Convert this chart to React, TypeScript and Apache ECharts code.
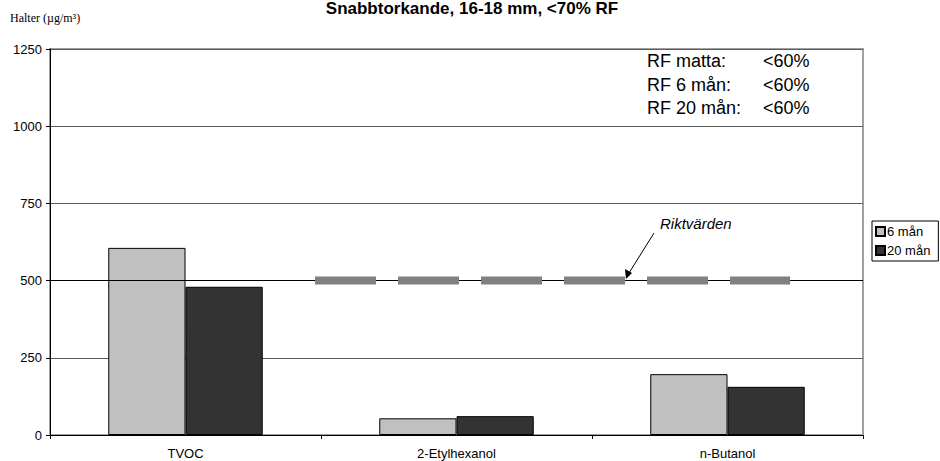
import React, { useEffect, useRef } from "react";
import * as echarts from "echarts";

const categories = ["TVOC", "2-Etylhexanol", "n-Butanol"];
const seriesNames = ["6 mån", "20 mån"];
const values6 = [606, 54, 197];
const values20 = [480, 61, 156];
const yTicks = [0, 250, 500, 750, 1000, 1250];
const riktValue = 500;
const riktXRange = [0.978, 2.731];
const titleText = "Snabbtorkande, 16-18 mm, <70% RF";
const yAxisTitle = "Halter (µg/m³)";
const rfLabels = ["RF matta:", "RF 6 mån:", "RF 20 mån:"];
const rfValues = ["<60%", "<60%", "<60%"];
const riktLabel = "Riktvärden";

const FONT = "'Liberation Sans', Arial, sans-serif";

export default function App() {
  const ref = useRef<HTMLDivElement>(null);
  useEffect(() => {
    if (!ref.current) return;
    const chart = echarts.init(ref.current, undefined, { renderer: "svg" });
    const rfText: any[] = [];
    rfLabels.forEach((l, i) => {
      rfText.push({
        type: "text",
        left: 647,
        top: 52 + i * 23.5,
        style: { text: l, font: `18px ${FONT}`, fill: "#000" },
      });
      rfText.push({
        type: "text",
        left: 763,
        top: 52 + i * 23.5,
        style: { text: rfValues[i], font: `18px ${FONT}`, fill: "#000" },
      });
    });
    chart.setOption({
      animation: false,
      backgroundColor: "#fff",
      title: {
        text: titleText,
        left: 467,
        top: -5,
        textAlign: "center",
        textStyle: { fontFamily: FONT, fontSize: 17, fontWeight: "bold", color: "#000" },
      },
      legend: {
        orient: "vertical",
        left: 872,
        top: 221,
        itemWidth: 9,
        itemHeight: 9,
        itemGap: 6,
        padding: [4, 8, 4, 3],
        borderColor: "#000",
        borderWidth: 1,
        icon: "rect",
        data: seriesNames,
        textStyle: { fontFamily: FONT, fontSize: 13, color: "#000", padding: [0, 0, 0, -3] },
      },
      grid: {
        left: 50,
        right: 77,
        top: 49,
        bottom: 26,
        show: true,
        borderColor: "#a0a0a0",
        borderWidth: 2,
      },
      xAxis: [
        {
          type: "category",
          data: categories,
          axisLine: { lineStyle: { color: "#000", width: 1 } },
          axisTick: { show: true, length: 4, lineStyle: { color: "#000" } },
          axisLabel: { fontFamily: FONT, fontSize: 13, color: "#000", margin: 12 },
          splitLine: { show: false },
        },
        {
          type: "value",
          min: 0,
          max: categories.length,
          show: false,
          splitLine: { show: false },
        },
      ],
      yAxis: {
        type: "value",
        min: yTicks[0],
        max: yTicks[yTicks.length - 1],
        interval: 250,
        axisLine: { show: true, lineStyle: { color: "#000", width: 1 } },
        axisTick: { show: true, length: 4, lineStyle: { color: "#000" } },
        axisLabel: {
          fontFamily: FONT,
          fontSize: 13,
          color: "#000",
          margin: 8,
          formatter: (v: number) => String(v),
        },
        splitLine: { show: true, lineStyle: { color: "#5a5a5a", width: 1 } },
      },
      series: [
        {
          name: seriesNames[0],
          type: "bar",
          data: values6,
          barGap: "0%",
          barCategoryGap: "43%",
          itemStyle: { color: "#c0c0c0", borderColor: "#000", borderWidth: 1 },
          markLine: {
            silent: true,
            symbol: "none",
            label: { show: false },
            lineStyle: { color: "#000", width: 1, type: "solid" },
            data: [{ yAxis: riktValue }],
          },
        },
        {
          name: seriesNames[1],
          type: "bar",
          data: values20,
          itemStyle: { color: "#333333", borderColor: "#000", borderWidth: 1 },
        },
        {
          name: riktLabel,
          type: "line",
          xAxisIndex: 1,
          z: 5,
          symbol: "none",
          data: riktXRange.map((x) => [x, riktValue]),
          lineStyle: { color: "#808080", width: 8, type: [61, 22], cap: "butt" },
        },
      ],
      graphic: [
        {
          type: "text",
          left: 10,
          top: 12,
          style: { text: yAxisTitle, font: "12px 'Liberation Serif', 'Times New Roman', serif", fill: "#000" },
        },
        ...rfText,
        {
          type: "text",
          left: 660,
          top: 216,
          style: { text: riktLabel, font: `italic 15px ${FONT}`, fill: "#000" },
        },
        {
          type: "line",
          shape: { x1: 654, y1: 233, x2: 629, y2: 273 },
          style: { stroke: "#000", lineWidth: 1 },
          z: 10,
        },
        {
          type: "polygon",
          shape: { points: [[626, 279], [625, 269], [632, 273]] },
          style: { fill: "#000" },
          z: 10,
        },
      ],
    });
    return () => chart.dispose();
  }, []);
  return (
    <div
      ref={ref}
      style={{ position: "fixed", left: 0, top: 0, width: 940, height: 461 }}
    />
  );
}
